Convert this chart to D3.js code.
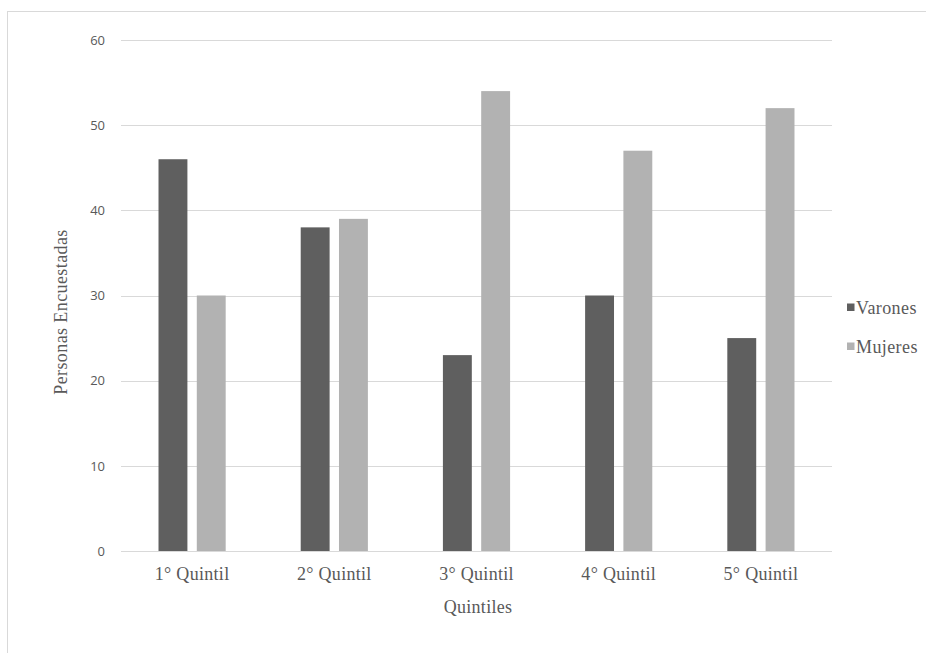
<!DOCTYPE html>
<html><head><meta charset="utf-8">
<script src="https://cdn.jsdelivr.net/npm/d3@7/dist/d3.min.js"></script>
<style>body{margin:0;background:#fff}</style>
</head><body><svg id="c" width="926" height="653"></svg>
<script>
const categories = ["1° Quintil","2° Quintil","3° Quintil","4° Quintil","5° Quintil"];
const seriesNames = ["Varones","Mujeres"];
const varones = [46,38,23,30,25];
const mujeres = [30,39,54,47,52];
const yTicks = [0,10,20,30,40,50,60];
const colors = ["#5f5f5f","#b2b2b2"];

(function(){
const serif = "'Liberation Serif', 'Times New Roman', serif";
const svg = d3.select("#c");
svg.append("rect").attr("x",7.5).attr("y",11.5).attr("width",940).attr("height",700)
  .attr("fill","#fff").attr("stroke","#d9d9d9");

const pL=121, pR=832, pT=40, pB=551;
const x = d3.scaleBand().domain(categories).range([pL,pR]);
const y = d3.scaleLinear().domain([0,60]).range([pB,pT]);

svg.append("g").selectAll("line").data(yTicks).join("line")
  .attr("x1",pL).attr("x2",pR)
  .attr("y1",d=>Math.round(y(d))+0.5).attr("y2",d=>Math.round(y(d))+0.5)
  .attr("stroke","#d9d9d9").attr("stroke-width",1);

const yAxis = d3.axisLeft(y).tickValues(yTicks).tickSize(0).tickPadding(0);
const ga = svg.append("g").attr("transform",`translate(${pL-16},0)`).call(yAxis);
ga.select(".domain").remove();
ga.selectAll("text").attr("font-family","'Open Sans', sans-serif").attr("font-size",13).attr("fill","#595959");

const inner = d3.scaleBand().domain(seriesNames).range([0,x.bandwidth()]).paddingInner(0.245).paddingOuter(0.98);
const data = categories.map((c,i)=>({c, vals:[varones[i],mujeres[i]]}));
const gb = svg.append("g");
data.forEach(d=>{
  d.vals.forEach((v,j)=>{
    gb.append("rect")
      .attr("x",x(d.c)+inner(seriesNames[j]))
      .attr("width",inner.bandwidth())
      .attr("y",y(v)).attr("height",y(0)-y(v))
      .attr("fill",colors[j]);
  });
});

const xAxis = d3.axisBottom(x).tickSize(0).tickPadding(0);
const gx = svg.append("g").attr("transform",`translate(0,${pB+29})`).call(xAxis);
gx.select(".domain").remove();
gx.selectAll("text").attr("font-family",serif).attr("font-size",18).attr("letter-spacing",0.3)
  .attr("fill","#595959").attr("dy",0);

svg.append("text").attr("x",478).attr("y",613).attr("text-anchor","middle")
  .attr("font-family",serif).attr("font-size",18).attr("letter-spacing",0.3).attr("fill","#595959").text("Quintiles");
svg.append("text").attr("transform",`translate(67,312) rotate(-90)`).attr("text-anchor","middle")
  .attr("font-family",serif).attr("font-size",18).attr("letter-spacing",0.4).attr("fill","#595959").text("Personas Encuestadas");

const leg = svg.append("g");
seriesNames.forEach((n,i)=>{
  const ly = 307.5 + i*39;
  leg.append("rect").attr("x",847).attr("y",ly-4).attr("width",7.5).attr("height",7.5).attr("fill",colors[i]);
  leg.append("text").attr("x",856).attr("y",ly+6)
    .attr("font-family",serif).attr("font-size",18).attr("letter-spacing",0.4).attr("fill","#595959").text(n);
});
})();
</script></body></html>
